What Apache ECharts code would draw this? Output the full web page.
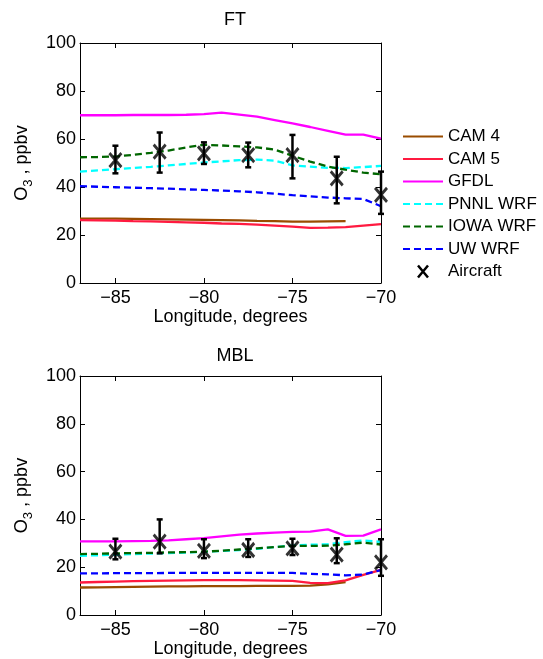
<!DOCTYPE html>
<html>
<head>
<meta charset="utf-8">
<script src="https://cdn.jsdelivr.net/npm/echarts@6/dist/echarts.min.js"></script>
<style>
  html, body { margin: 0; padding: 0; background: #fff; }
  #chart { width: 543px; height: 659px; }
</style>
</head>
<body>
<div id="chart"></div>
<script>
// model grid longitudes
const lon = [-87, -86, -85, -84, -83, -82, -81, -80, -79, -78, -77, -76, -75, -74, -73, -72, -71, -70];

// FT (free troposphere)
const ftCam4 = [26.8, 26.8, 26.8, 26.7, 26.6, 26.5, 26.4, 26.3, 26.2, 26.1, 25.9, 25.8, 25.6, 25.6, 25.7, 25.8, null, null];
const ftCam5 = [26.2, 26.1, 26.0, 25.8, 25.7, 25.5, 25.3, 25.1, 24.8, 24.6, 24.3, 23.9, 23.5, 23.0, 23.1, 23.3, 23.9, 24.5];
const ftGfdl = [69.9, 69.9, 69.9, 70.0, 70.0, 70.0, 70.1, 70.4, 71.0, 70.2, 69.3, 67.9, 66.5, 65.0, 63.4, 61.8, 61.8, 60.2];
const ftPnnl = [46.4, 46.9, 47.4, 47.9, 48.4, 49.0, 49.6, 50.2, 50.7, 51.2, 51.4, 51.0, 49.0, 48.5, 48.0, 47.9, 48.3, 48.8];
const ftIowa = [52.4, 52.5, 52.7, 53.4, 54.2, 55.2, 56.5, 57.6, 57.3, 56.9, 56.5, 55.6, 53.0, 50.6, 48.5, 47.2, 46.0, 45.3];
const ftUw   = [40.4, 40.1, 39.9, 39.7, 39.5, 39.3, 39.0, 38.8, 38.5, 38.2, 37.8, 37.2, 36.6, 36.1, 35.6, 35.3, 35.0, 32.0];

// MBL (marine boundary layer)
const mblCam4 = [11.5, 11.6, 11.7, 11.8, 11.9, 12.0, 12.0, 12.1, 12.1, 12.1, 12.2, 12.2, 12.2, 12.3, 12.8, 13.8, null, null];
const mblCam5 = [13.6, 13.8, 14.0, 14.2, 14.3, 14.4, 14.5, 14.6, 14.6, 14.6, 14.5, 14.4, 14.3, 13.4, 13.3, 14.5, 16.8, 18.9];
const mblGfdl = [30.8, 30.8, 30.8, 30.9, 31.0, 31.2, 31.7, 32.2, 32.9, 33.6, 34.1, 34.5, 34.8, 34.9, 35.8, 33.1, 33.2, 35.8];
const mblPnnl = [24.8, 25.0, 25.2, 25.5, 25.7, 25.9, 26.1, 26.4, 26.8, 27.2, 27.7, 28.4, 29.1, 29.4, 29.6, 30.5, 31.2, 30.6];
const mblIowa = [25.5, 25.6, 25.8, 25.9, 26.0, 26.2, 26.3, 26.5, 26.9, 27.4, 27.9, 28.4, 28.9, 28.9, 29.0, 29.6, 30.3, 29.5];
const mblUw   = [17.4, 17.4, 17.5, 17.5, 17.5, 17.6, 17.6, 17.6, 17.6, 17.6, 17.6, 17.6, 17.6, 17.2, 17.0, 16.6, 16.9, 18.8];

// aircraft observations
const acLon   = [-85, -82.5, -80, -77.5, -75, -72.5, -70];
const ftMean  = [51.2, 54.7, 54.0, 53.3, 53.3, 43.6, 36.7];
const ftLo    = [45.7, 46.0, 49.6, 48.2, 43.6, 33.2, 28.8];
const ftHi    = [57.2, 62.7, 58.6, 58.5, 61.7, 52.6, 46.4];
const mblMean = [26.5, 30.7, 26.8, 27.2, 27.9, 25.3, 22.0];
const mblLo   = [23.3, 25.8, 23.8, 24.3, 25.1, 21.7, 16.4];
const mblHi   = [31.9, 40.0, 31.7, 31.7, 31.9, 32.1, 31.7];

const xTicks = [-85, -80, -75, -70];

const FONT = 'Liberation Sans';
const models = [
  { name: 'CAM 4',     color: '#994c00', dash: 'solid', ft: ftCam4, mbl: mblCam4 },
  { name: 'CAM 5',     color: '#ff1a40', dash: 'solid', ft: ftCam5, mbl: mblCam5 },
  { name: 'GFDL',      color: '#ff00ff', dash: 'solid', ft: ftGfdl, mbl: mblGfdl },
  { name: 'PNNL WRF',  color: '#00ffff', dash: [7, 4],  ft: ftPnnl, mbl: mblPnnl },
  { name: 'IOWA WRF',  color: '#006600', dash: [7, 4],  ft: ftIowa, mbl: mblIowa },
  { name: 'UW WRF',    color: '#0000ff', dash: [7, 4],  ft: ftUw,   mbl: mblUw }
];
const X_MARK = 'path://M0,0L10,12M10,0L0,12';

const fmtLon = v => (v < 0 ? '\u2212' + Math.abs(v) : String(v));
const grids = [
  { left: 80, top: 43, width: 301, height: 240 },
  { left: 80, top: 376, width: 301, height: 240 }
];

function xAx(gi, pos) {
  const main = pos === 'bottom';
  return {
    type: 'value', gridIndex: gi, position: pos, min: -87, max: -70,
    name: main ? 'Longitude, degrees' : '', nameLocation: 'middle', nameGap: 25,
    nameTextStyle: { fontFamily: FONT, fontSize: 18, color: '#000' },
    axisLine: { show: true, onZero: false, lineStyle: { color: '#000', width: 1 } },
    axisTick: { show: true, inside: true, length: 5, customValues: xTicks, lineStyle: { color: '#000' } },
    axisLabel: { show: main, customValues: xTicks, formatter: fmtLon, margin: 6,
      fontFamily: FONT, fontSize: 18, color: '#000' },
    splitLine: { show: false }
  };
}
function yAx(gi, pos) {
  const main = pos === 'left';
  return {
    type: 'value', gridIndex: gi, position: pos, min: 0, max: 100, interval: 20,
    name: main ? '{a|O}{s|3}{a| , ppbv}' : '', nameLocation: 'middle', nameGap: 44,
    nameTextStyle: { fontFamily: FONT, fontSize: 18, color: '#000',
      rich: {
        a: { fontFamily: FONT, fontSize: 18, color: '#000', lineHeight: 26 },
        s: { fontFamily: FONT, fontSize: 13, color: '#000', lineHeight: 14, verticalAlign: 'bottom' }
      } },
    axisLine: { show: true, lineStyle: { color: '#000', width: 1 } },
    axisTick: { show: true, inside: true, length: 5, lineStyle: { color: '#000' } },
    axisLabel: { show: main, margin: 4, fontFamily: FONT, fontSize: 18, color: '#000' },
    splitLine: { show: false }
  };
}

const series = [];
['ft', 'mbl'].forEach((key, gi) => {
  models.forEach(m => {
    series.push({
      name: m.name, type: 'line', xAxisIndex: gi, yAxisIndex: gi,
      data: lon.map((x, i) => [x, m[key][i]]),
      symbol: 'none', connectNulls: false, animation: false,
      lineStyle: { color: m.color, width: 2.3, type: m.dash },
      itemStyle: { color: m.color }
    });
  });
  const mean = gi === 0 ? ftMean : mblMean;
  const lo = gi === 0 ? ftLo : mblLo;
  const hi = gi === 0 ? ftHi : mblHi;
  series.push({
    name: 'Aircraft range', type: 'custom', xAxisIndex: gi, yAxisIndex: gi,
    data: acLon.map((x, i) => [x, lo[i], hi[i]]),
    encode: { x: 0, y: [1, 2] }, z: 5, animation: false, clip: false,
    renderItem: function (params, api) {
      const x = api.value(0);
      const p1 = api.coord([x, api.value(1)]);
      const p2 = api.coord([x, api.value(2)]);
      const c = 3, st = { stroke: '#000', lineWidth: 2.5 };
      return { type: 'group', children: [
        { type: 'line', shape: { x1: p1[0], y1: p1[1], x2: p2[0], y2: p2[1] }, style: st },
        { type: 'line', shape: { x1: p1[0] - c, y1: p1[1], x2: p1[0] + c, y2: p1[1] }, style: st },
        { type: 'line', shape: { x1: p2[0] - c, y1: p2[1], x2: p2[0] + c, y2: p2[1] }, style: st }
      ] };
    }
  });
  series.push({
    name: 'Aircraft', type: 'scatter', xAxisIndex: gi, yAxisIndex: gi,
    data: acLon.map((x, i) => [x, mean[i]]),
    symbol: X_MARK, symbolSize: [12, 14], z: 6, animation: false,
    itemStyle: { color: 'rgba(0,0,0,0)', borderColor: '#000', borderWidth: 3 }
  });
});

// legend entries: plain line for the models, a bold x for the aircraft
const legendData = models.map(m => ({ name: m.name, itemStyle: { opacity: 0 } }));
legendData.push({ name: 'Aircraft', icon: X_MARK,
  itemStyle: { color: 'rgba(0,0,0,0)', borderColor: '#000', borderWidth: 2.5, opacity: 1 } });

const chart = echarts.init(document.getElementById('chart'));
chart.setOption({
  backgroundColor: '#fff',
  animation: false,
  title: [
    { text: 'FT', left: 230, top: 6, textAlign: 'center',
      textStyle: { fontFamily: FONT, fontSize: 18, fontWeight: 'normal', color: '#000' } },
    { text: 'MBL', left: 230, top: 342, textAlign: 'center',
      textStyle: { fontFamily: FONT, fontSize: 18, fontWeight: 'normal', color: '#000' } }
  ],
  legend: {
    orient: 'vertical', left: 397, top: 123,
    itemWidth: 40, itemHeight: 12, itemGap: 5.5,
    data: legendData,
    textStyle: { fontFamily: FONT, fontSize: 17, color: '#000', lineHeight: 17 }
  },
  grid: grids,
  xAxis: [xAx(0, 'bottom'), xAx(1, 'bottom'), xAx(0, 'top'), xAx(1, 'top')],
  yAxis: [yAx(0, 'left'), yAx(1, 'left'), yAx(0, 'right'), yAx(1, 'right')],
  series: series
});
window.onresize = () => {
  chart.resize();
};
</script>
</body>
</html>
